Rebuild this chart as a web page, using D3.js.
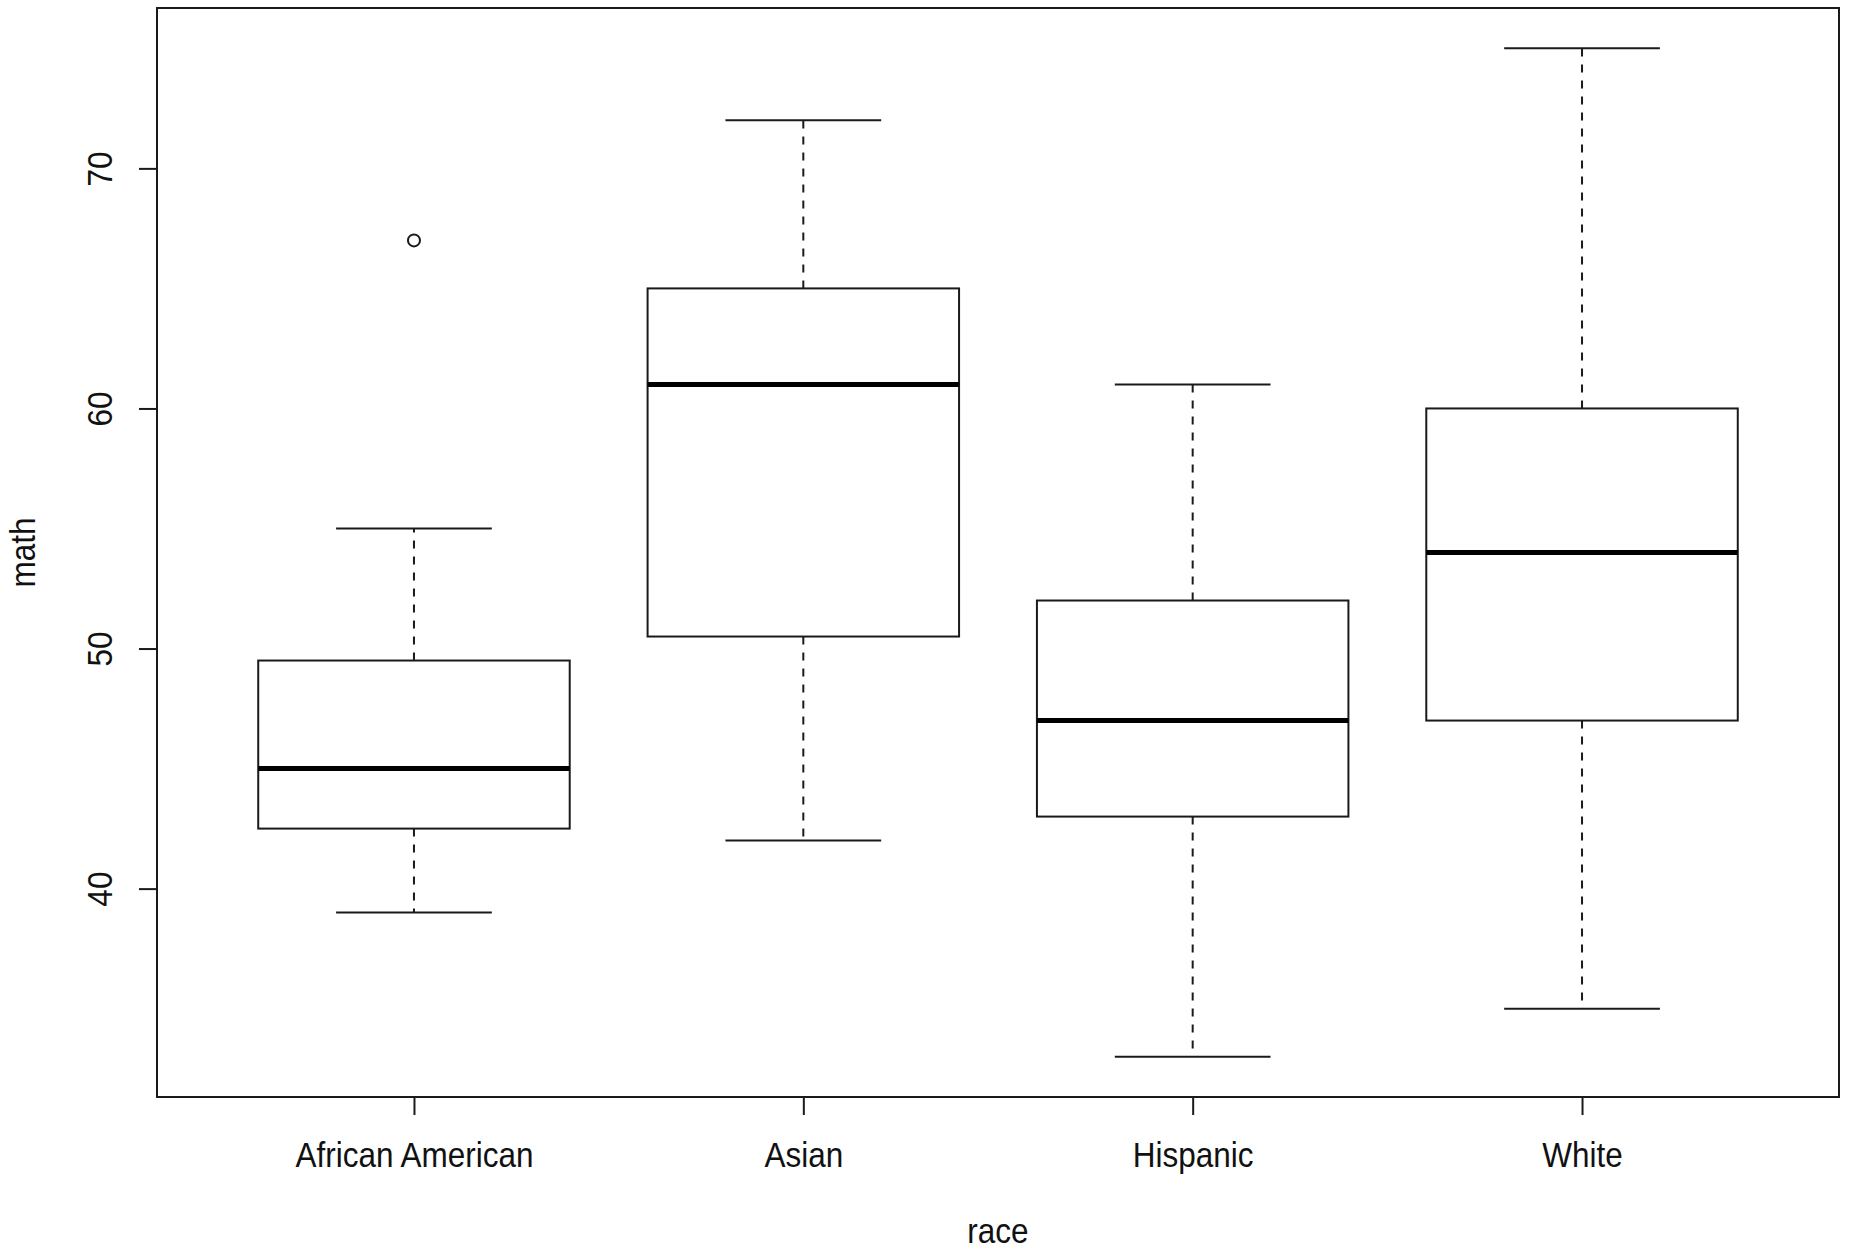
<!DOCTYPE html>
<html>
<head>
<meta charset="utf-8">
<script src="https://cdn.jsdelivr.net/npm/d3@7"></script>
<style>
  body { margin: 0; background: #fff; }
  text { font-family: "Liberation Sans", Arial, sans-serif; fill: #111; }
</style>
</head>
<body>
<svg width="1851" height="1250"></svg>
<script>
// boxplot stats
var categories = ['African American', 'Asian', 'Hispanic', 'White'];
var lowerWhisker = [39, 42, 33, 35];
var q1 = [42.5, 50.5, 43, 47];
var median = [45, 61, 47, 54];
var q3 = [49.5, 65, 52, 60];
var upperWhisker = [55, 72, 61, 75];
var outlierGroup = [0];
var outlierValue = [67];
var yTicks = [40, 50, 60, 70];

// note: "top" is taken by window.top, so plot edges get their own names
var plotLeft = 157, plotRight = 1839, plotTop = 8, plotBottom = 1097;
var ink = '#1a1a1a';
var fontSize = 35, squeeze = 0.9;

var boxes = categories.map(function (c, i) {
    return {name: c, i: i + 1, lo: lowerWhisker[i], q1: q1[i], med: median[i], q3: q3[i], hi: upperWhisker[i]};
});

// R style: range padded by 4%
var yMin = d3.min(lowerWhisker.concat(outlierValue)), yMax = d3.max(upperWhisker.concat(outlierValue));
var yPad = (yMax - yMin) * 0.04;
var y = d3.scaleLinear().domain([yMin - yPad, yMax + yPad]).range([plotBottom, plotTop]);
var x = d3.scaleLinear().domain([0.5 - 0.16, categories.length + 0.5 + 0.16]).range([plotLeft, plotRight]);
var unit = x(1) - x(0);

var svg = d3.select('svg');

var g = svg.append('g')
    .selectAll('g')
    .data(boxes)
    .enter()
    .append('g');

// whiskers
g.append('line')
    .attr('x1', function (d) { return x(d.i); })
    .attr('x2', function (d) { return x(d.i); })
    .attr('y1', function (d) { return y(d.q3); })
    .attr('y2', function (d) { return y(d.hi); })
    .attr('stroke', ink).attr('stroke-width', 2).attr('stroke-dasharray', '8,8');
g.append('line')
    .attr('x1', function (d) { return x(d.i); })
    .attr('x2', function (d) { return x(d.i); })
    .attr('y1', function (d) { return y(d.q1); })
    .attr('y2', function (d) { return y(d.lo); })
    .attr('stroke', ink).attr('stroke-width', 2).attr('stroke-dasharray', '8,8');

// staples
['hi', 'lo'].forEach(function (k) {
    g.append('line')
        .attr('x1', function (d) { return x(d.i) - unit * 0.2; })
        .attr('x2', function (d) { return x(d.i) + unit * 0.2; })
        .attr('y1', function (d) { return y(d[k]); })
        .attr('y2', function (d) { return y(d[k]); })
        .attr('stroke', ink).attr('stroke-width', 2);
});

// boxes
g.append('rect')
    .attr('x', function (d) { return x(d.i) - unit * 0.4; })
    .attr('width', unit * 0.8)
    .attr('y', function (d) { return y(d.q3); })
    .attr('height', function (d) { return y(d.q1) - y(d.q3); })
    .attr('fill', 'white')
    .attr('stroke', ink).attr('stroke-width', 2);

// medians
g.append('line')
    .attr('x1', function (d) { return x(d.i) - unit * 0.4; })
    .attr('x2', function (d) { return x(d.i) + unit * 0.4; })
    .attr('y1', function (d) { return y(d.med); })
    .attr('y2', function (d) { return y(d.med); })
    .attr('stroke', '#000').attr('stroke-width', 5);

// outliers
svg.append('g')
    .selectAll('circle')
    .data(outlierValue)
    .enter()
    .append('circle')
    .attr('cx', function (d, i) { return x(outlierGroup[i] + 1); })
    .attr('cy', function (d) { return y(d); })
    .attr('r', 6)
    .attr('fill', 'none')
    .attr('stroke', ink).attr('stroke-width', 2);

// axes
var xAxis = svg.append('g')
    .attr('transform', 'translate(0,' + plotBottom + ')')
    .call(d3.axisBottom(x).tickValues(d3.range(1, categories.length + 1))
        .tickFormat(function (d) { return categories[d - 1]; }).tickSize(18));
xAxis.select('.domain').remove();
xAxis.selectAll('line').attr('stroke', ink).attr('stroke-width', 2);
xAxis.selectAll('text')
    .attr('y', null).attr('dy', null)
    .attr('transform', 'translate(0,70) scale(' + squeeze + ',1)')
    .attr('font-size', fontSize).attr('font-family', '"Liberation Sans", Arial, sans-serif')
    .attr('fill', '#111');

var yAxis = svg.append('g')
    .attr('transform', 'translate(' + plotLeft + ',0)')
    .call(d3.axisLeft(y).tickValues(yTicks).tickSize(18));
yAxis.select('.domain').remove();
yAxis.selectAll('line').attr('stroke', ink).attr('stroke-width', 2);
yAxis.selectAll('text')
    .attr('x', null).attr('dy', null)
    .attr('text-anchor', 'middle')
    .attr('transform', 'translate(-45,0) rotate(-90) scale(' + squeeze + ',1)')
    .attr('font-size', fontSize).attr('font-family', '"Liberation Sans", Arial, sans-serif')
    .attr('fill', '#111');

// frame
svg.append('rect')
    .attr('x', plotLeft).attr('y', plotTop)
    .attr('width', plotRight - plotLeft).attr('height', plotBottom - plotTop)
    .attr('fill', 'none').attr('stroke', ink).attr('stroke-width', 2);

// axis titles
svg.append('text')
    .attr('text-anchor', 'middle')
    .attr('font-size', fontSize)
    .attr('transform', 'translate(' + (plotLeft + plotRight) / 2 + ',1243) scale(' + squeeze + ',1)')
    .text('race');
svg.append('text')
    .attr('text-anchor', 'middle')
    .attr('font-size', fontSize)
    .attr('transform', 'translate(35,' + (plotTop + plotBottom) / 2 + ') rotate(-90) scale(' + squeeze + ',1)')
    .text('math');
</script>
</body>
</html>
